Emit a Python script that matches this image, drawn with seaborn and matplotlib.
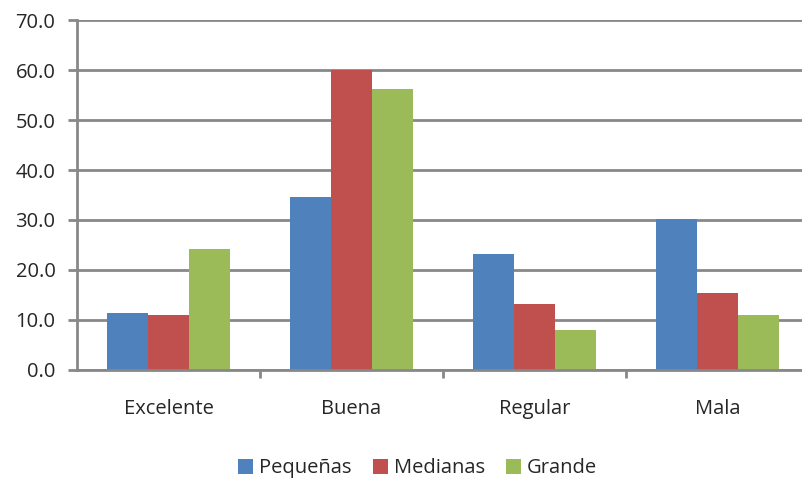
import matplotlib
matplotlib.use("Agg")
import matplotlib.pyplot as plt
import seaborn as sns
import pandas as pd
from matplotlib.patches import Patch
from matplotlib.ticker import MultipleLocator, FixedLocator

categories = ["Excelente", "Buena", "Regular", "Mala"]
pequenas = [11.4, 34.7, 23.1, 30.1]
medianas = [11.0, 60.1, 13.1, 15.3]
grande = [24.1, 56.2, 7.9, 11.0]
series_names = ["Pequeñas", "Medianas", "Grande"]
colors = ["#4F81BD", "#C0504D", "#9BBB59"]

rows = []
for name, vals in zip(series_names, [pequenas, medianas, grande]):
    for c, v in zip(categories, vals):
        rows.append({"cat": c, "serie": name, "valor": v})
df = pd.DataFrame(rows)

sns.set_style("white")
plt.rcParams["font.family"] = ["Open Sans", "DejaVu Sans"]

fig = plt.figure(figsize=(8.03, 4.79), dpi=100)
ax = fig.add_axes([0.0959, 0.2276, 0.9116, 0.7306])

sns.barplot(data=df, x="cat", y="valor", hue="serie", order=categories,
            hue_order=series_names, palette=colors, width=0.667,
            saturation=1, ax=ax, legend=False, linewidth=0)

ax.set_ylim(0, 70)
ax.set_xlim(-0.5, 3.5)
ax.yaxis.set_major_locator(MultipleLocator(10))
ax.set_yticklabels([f"{v:.1f}" for v in ax.get_yticks()])
ax.grid(axis="y", color="#888888", linewidth=2)
ax.set_axisbelow(True)
for s in ["top", "right"]:
    ax.spines[s].set_visible(False)
for s in ["left", "bottom"]:
    ax.spines[s].set_color("#888888")
    ax.spines[s].set_linewidth(2)
ax.set_xlabel("")
ax.set_ylabel("")
ax.tick_params(axis="y", length=6.5, width=2, color="#888888", pad=9,
               labelsize=14.5, left=True, direction="out")
ax.tick_params(axis="x", which="major", length=0, pad=21, labelsize=14.5)
ax.xaxis.set_minor_locator(FixedLocator([0.5, 1.5, 2.5]))
ax.tick_params(axis="x", which="minor", length=6, width=2, color="#888888",
               bottom=True, direction="out")

handles = [Patch(facecolor=c, edgecolor="none", label=n) for c, n in zip(colors, series_names)]
fig.legend(handles=handles, loc="center", bbox_to_anchor=(0.52, 0.022), ncol=3,
           frameon=False, fontsize=14.5, handlelength=0.75, handleheight=0.75,
           handletextpad=0.3, columnspacing=1.05)

fig.savefig("out.png", dpi=100)
